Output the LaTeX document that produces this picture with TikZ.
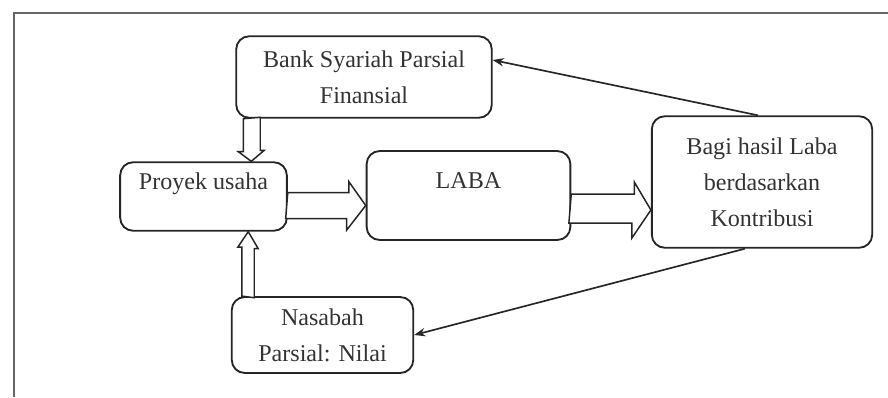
\documentclass[tikz,border=0pt]{standalone}
\usepackage{fontspec}
\setmainfont{Liberation Serif}
\usetikzlibrary{calc,arrows.meta}

\tikzset{
  box/.style={draw=black!85, line width=1pt, rounded corners=7pt, align=center,
    font=\fontsize{13}{19.5}\selectfont, text=black!80, inner sep=2pt},
  hollow/.style={draw=black!85, line width=0.8pt, fill=white, line join=miter},
  thin arrow/.style={draw=black!85, line width=0.9pt, -{Stealth[length=6pt,width=4.5pt]}}
}

\begin{document}
\begin{tikzpicture}[x=0.54pt, y=-0.54pt]
 \useasboundingbox (0,0) rectangle (888,397);

 % outer frame (only top and left edges are visible)
 \draw[black!60, line width=0.9pt] (14,397) -- (14,13) -- (888,13);

 \node[box, minimum width=138pt, minimum height=44pt] (bank) at (364,77) {Bank Syariah Parsial\\Finansial};
 \node[box, minimum width=90pt, minimum height=37pt, text height=9pt, text depth=17pt] (proyek) at (203.5,196.5) {Proyek usaha};
 \node[box, minimum width=110pt, minimum height=48pt, text height=9pt, text depth=17pt] (laba) at (468.5,195.5) {LABA};
 \node[box, minimum width=119pt, minimum height=71pt] (bagi) at (762,182) {Bagi hasil Laba\\berdasarkan\\Kontribusi};
 \node[box, minimum width=98pt, minimum height=41pt] (nasabah) at (322.5,335) {Nasabah\\Parsial: Nilai};

 % fat arrows into and out of the project
 \draw[hollow] ($(bank.south west)+(8,0)$) -- ++(0,33) -- ++(-5,0)
   -- ($(proyek.north west)+(132,0)$) -- ++(13,-11) -- ++(-4,0) -- ++(0,-33) -- cycle;
 \draw[hollow] ($(nasabah.north west)+(11,0)$) -- ++(0,-49) -- ++(-4,0)
   -- ($(proyek.south west)+(129,0)$) -- ++(10,17) -- ++(-4,0) -- ++(0,49) -- cycle;
 \draw[hollow] ($(proyek.east)+(0,-4)$) -- ++(61,0) -- ++(0,-11)
   -- ($(laba.west)+(0,10)$) -- ++(-19,24.5) -- ++(0,-11.5) -- ++(-61,0) -- cycle;
 \draw[hollow] ($(laba.east)+(0,-1.5)$) -- ++(63,0) -- ++(0,-12)
   -- ($(bagi.west)+(0,28)$) -- ++(-19,28) -- ++(0,-15) -- ++(-63,0) -- cycle;

 % profit shares going back
 \draw[thin arrow] ($(bagi.north)+(-4,0)$) -- ($(bank.east)+(0,-17)$);
 \draw[thin arrow] ($(bagi.south)+(-17,0)$) -- (nasabah.east);

\end{tikzpicture}
\end{document}
